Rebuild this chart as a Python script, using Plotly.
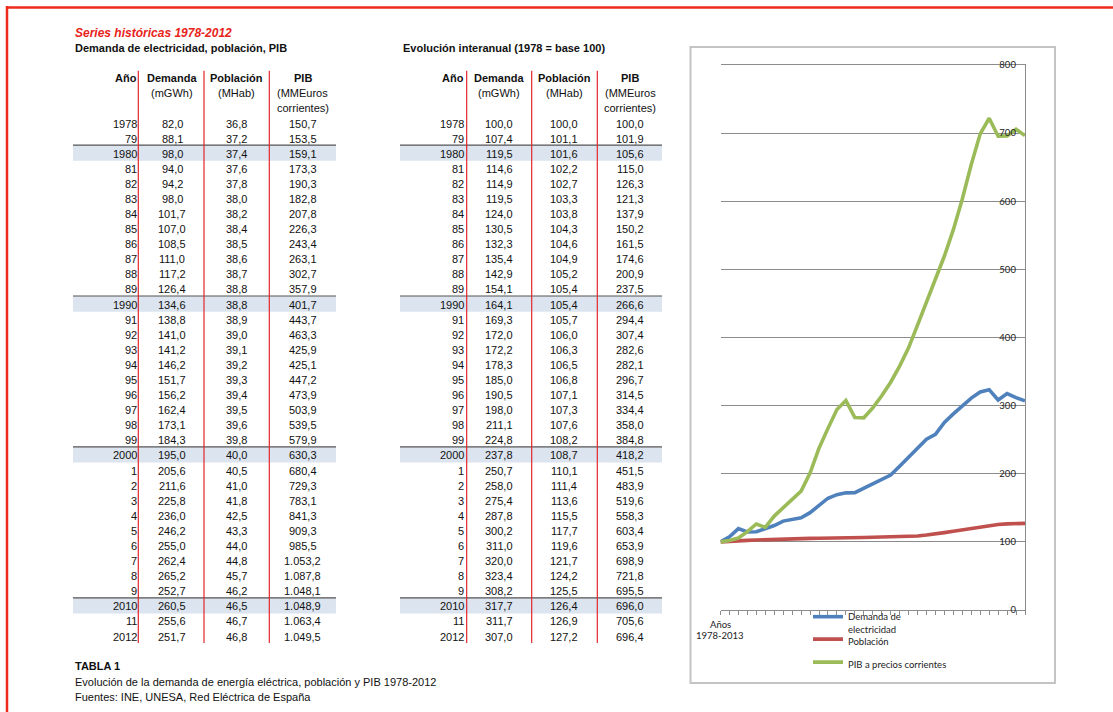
import plotly.graph_objects as go

W, H = 1113, 712

# ---------------- DATA ----------------
years = list(range(1978, 2013))
year_labels = ["1978", "79", "1980", "81", "82", "83", "84", "85", "86", "87", "88", "89",
               "1990", "91", "92", "93", "94", "95", "96", "97", "98", "99",
               "2000", "1", "2", "3", "4", "5", "6", "7", "8", "9", "2010", "11", "2012"]

demanda = [82.0, 88.1, 98.0, 94.0, 94.2, 98.0, 101.7, 107.0, 108.5, 111.0, 117.2, 126.4,
           134.6, 138.8, 141.0, 141.2, 146.2, 151.7, 156.2, 162.4, 173.1, 184.3,
           195.0, 205.6, 211.6, 225.8, 236.0, 246.2, 255.0, 262.4, 265.2, 252.7, 260.5, 255.6, 251.7]
poblacion = [36.8, 37.2, 37.4, 37.6, 37.8, 38.0, 38.2, 38.4, 38.5, 38.6, 38.7, 38.8,
             38.8, 38.9, 39.0, 39.1, 39.2, 39.3, 39.4, 39.5, 39.6, 39.8,
             40.0, 40.5, 41.0, 41.8, 42.5, 43.3, 44.0, 44.8, 45.7, 46.2, 46.5, 46.7, 46.8]
pib = [150.7, 153.5, 159.1, 173.3, 190.3, 182.8, 207.8, 226.3, 243.4, 263.1, 302.7, 357.9,
       401.7, 443.7, 463.3, 425.9, 425.1, 447.2, 473.9, 503.9, 539.5, 579.9,
       630.3, 680.4, 729.3, 783.1, 841.3, 909.3, 985.5, 1053.2, 1087.8, 1048.1, 1048.9, 1063.4, 1049.5]

idx_demanda = [100.0, 107.4, 119.5, 114.6, 114.9, 119.5, 124.0, 130.5, 132.3, 135.4, 142.9, 154.1,
               164.1, 169.3, 172.0, 172.2, 178.3, 185.0, 190.5, 198.0, 211.1, 224.8,
               237.8, 250.7, 258.0, 275.4, 287.8, 300.2, 311.0, 320.0, 323.4, 308.2, 317.7, 311.7, 307.0]
idx_poblacion = [100.0, 101.1, 101.6, 102.2, 102.7, 103.3, 103.8, 104.3, 104.6, 104.9, 105.2, 105.4,
                 105.4, 105.7, 106.0, 106.3, 106.5, 106.8, 107.1, 107.3, 107.6, 108.2,
                 108.7, 110.1, 111.4, 113.6, 115.5, 117.7, 119.6, 121.7, 124.2, 125.5, 126.4, 126.9, 127.2]
idx_pib = [100.0, 101.9, 105.6, 115.0, 126.3, 121.3, 137.9, 150.2, 161.5, 174.6, 200.9, 237.5,
           266.6, 294.4, 307.4, 282.6, 282.1, 296.7, 314.5, 334.4, 358.0, 384.8,
           418.2, 451.5, 483.9, 519.6, 558.3, 603.4, 653.9, 698.9, 721.8, 695.5, 696.0, 705.6, 696.4]

header_top = ["Año", "Demanda", "Población", "PIB"]
header_mid = ["", "(mGWh)", "(MHab)", "(MMEuros"]
header_bot = ["", "", "", "corrientes)"]

series_names = ["Demanda de<br>electricidad", "Población", "PIB a precios corrientes"]
series_colors = ["#4F81BD", "#C0504D", "#9BBB59"]

# ---------------- STYLE / LAYOUT CONSTANTS ----------------
TFONT = "Liberation Sans, Arial, sans-serif"
CFONT = "Lato, Open Sans, sans-serif"
RED = "#ee2a1b"
ROW0, PITCH = 123.5, 15.09

tables = [
    dict(cols=[demanda, poblacion, pib], year_right=136.5, centers=[172.0, 236.5, 302.5],
         vlines=[138.3, 204.0, 269.3], band=(73, 336)),
    dict(cols=[idx_demanda, idx_poblacion, idx_pib], year_right=463.5, centers=[499.3, 564.3, 630.0],
         vlines=[466.7, 531.7, 597.3], band=(400, 662)),
]


def fmt(v):
    s = f"{v:,.1f}"
    return s.replace(",", "X").replace(".", ",").replace("X", ".")


def row_y(i):
    return ROW0 + i * PITCH


annotations = []
shapes = []


def txt(x, y, text, anchor="center", size=11, bold=False, italic=False, color="#111", font=TFONT):
    t = text
    if bold:
        t = f"<b>{t}</b>"
    if italic:
        t = f"<i>{t}</i>"
    annotations.append(dict(x=x, y=y, xref="x2", yref="y2", text=t, showarrow=False,
                            xanchor=anchor, yanchor="middle", borderpad=0, borderwidth=0,
                            font=dict(family=font, size=size, color=color)))


# page border (red)
shapes.append(dict(type="line", xref="x2", yref="y2", x0=6, x1=W, y0=7.5, y1=7.5,
                   line=dict(color=RED, width=2.5)))
shapes.append(dict(type="line", xref="x2", yref="y2", x0=7, x1=7, y0=6, y1=H,
                   line=dict(color=RED, width=2.5)))

# titles
txt(75, 33, "Series históricas 1978-2012", anchor="left", size=12, bold=True, italic=True, color="#e8231a")
txt(75, 47.5, "Demanda de electricidad, población, PIB", anchor="left", size=11, bold=True)
txt(403, 47.5, "Evolución interanual (1978 = base 100)", anchor="left", size=11, bold=True)

for T in tables:
    # decade bands
    for i, yr in enumerate(years):
        if yr % 10 == 0:
            c = row_y(i)
            shapes.append(dict(type="rect", xref="x2", yref="y2", x0=T["band"][0], x1=T["band"][1],
                               y0=c - 0.57 * PITCH, y1=c + 0.47 * PITCH, layer="below",
                               fillcolor="#dce4ef", line=dict(width=0)))
            shapes.append(dict(type="line", xref="x2", yref="y2", x0=T["band"][0], x1=T["band"][1],
                               y0=c - 0.57 * PITCH, y1=c - 0.57 * PITCH,
                               line=dict(color="#555555", width=1.2)))
    # red vertical separators
    for vx in T["vlines"]:
        shapes.append(dict(type="line", xref="x2", yref="y2", x0=vx, x1=vx,
                           y0=row_y(-3.5), y1=row_y(len(years) - 1) + 6.5,
                           line=dict(color="#e3262b", width=1.2)))
    # header
    txt(T["year_right"], row_y(-3), header_top[0], anchor="right", bold=True)
    for j, cx in enumerate(T["centers"]):
        txt(cx, row_y(-3), header_top[j + 1], bold=True)
        if header_mid[j + 1]:
            txt(cx, row_y(-2), header_mid[j + 1])
        if header_bot[j + 1]:
            txt(cx, row_y(-1), header_bot[j + 1])
    # body
    for i, lab in enumerate(year_labels):
        txt(T["year_right"], row_y(i), lab, anchor="right")
        for j, cx in enumerate(T["centers"]):
            txt(cx, row_y(i), fmt(T["cols"][j][i]))

# footer
txt(75, 666, "TABLA 1", anchor="left", bold=True)
txt(75, 681.5, "Evolución de la demanda de energía eléctrica, población y PIB 1978-2012", anchor="left")
txt(75, 697, "Fuentes: INE, UNESA, Red Eléctrica de España", anchor="left")

# chart frame
shapes.append(dict(type="rect", xref="x2", yref="y2", x0=690.5, x1=1055, y0=47, y1=683,
                   line=dict(color="#c4c4c4", width=2), fillcolor="rgba(0,0,0,0)", layer="below"))
txt(720, 624.5, "Años", size=9.5, font=CFONT, color="#222")
txt(720, 635.5, "1978-2013", size=9.5, font=CFONT, color="#222")

# ---------------- FIGURE ----------------
fig = go.Figure()
chart_series = [idx_demanda, idx_poblacion, idx_pib]
legend_ids = ["legend", "legend2", "legend3"]
for name, ys, col, lg in zip(series_names, chart_series, series_colors, legend_ids):
    fig.add_trace(go.Scatter(x=years, y=ys, mode="lines", name=name, legend=lg,
                             line=dict(color=col, width=3.6), xaxis="x", yaxis="y"))

# invisible dummy trace to anchor overlay axes
fig.add_trace(go.Scatter(x=[0], y=[0], mode="markers", marker=dict(opacity=0),
                         showlegend=False, hoverinfo="skip", xaxis="x2", yaxis="y2"))

PX_L, PX_R, PX_T, PX_B = 720.5, 1025, 65, 610
LEG_X = 808


def legend_at(y_px, anchor="top"):
    return dict(x=LEG_X / W, y=1 - y_px / H, xanchor="left", yanchor=anchor,
                bgcolor="rgba(0,0,0,0)", borderwidth=0, valign="top", itemwidth=30,
                font=dict(family=CFONT, size=9.5, color="#222"))


fig.update_layout(
    width=W, height=H,
    margin=dict(l=0, r=0, t=0, b=0, autoexpand=False),
    paper_bgcolor="white", plot_bgcolor="rgba(0,0,0,0)",
    showlegend=True,
    xaxis=dict(domain=[PX_L / W, PX_R / W], range=[1978, 2012], anchor="y",
               showgrid=False, zeroline=False, showline=True, mirror=True, automargin=False,
               linecolor="#8c8c8c", linewidth=1,
               ticks="outside", ticklen=4, tickcolor="#8c8c8c", tickvals=years,
               showticklabels=False, fixedrange=True),
    yaxis=dict(domain=[1 - PX_B / H, 1 - PX_T / H], range=[0, 800], dtick=100, anchor="x",
               side="right", ticklabelposition="inside", ticklabelstandoff=8,
               ticklabeloverflow="allow", automargin=False,
               showgrid=True, gridcolor="#8c8c8c", gridwidth=1, zeroline=False,
               showline=True, linecolor="#8c8c8c", linewidth=1, ticks="",
               tickfont=dict(family=CFONT, size=9.5, color="#222"), fixedrange=True),
    xaxis2=dict(domain=[0, 1], range=[0, W], anchor="y2", visible=False, fixedrange=True,
                automargin=False),
    yaxis2=dict(domain=[0, 1], range=[H, 0], anchor="x2", visible=False, fixedrange=True,
                automargin=False),
    legend=legend_at(604, "top"),
    legend2=legend_at(641, "middle"),
    legend3=legend_at(664, "middle"),
    annotations=annotations,
    shapes=shapes,
)

fig.write_html("out.html", config={"displayModeBar": False},
               post_script="document.body.style.margin='0';document.body.style.overflow='hidden';")
